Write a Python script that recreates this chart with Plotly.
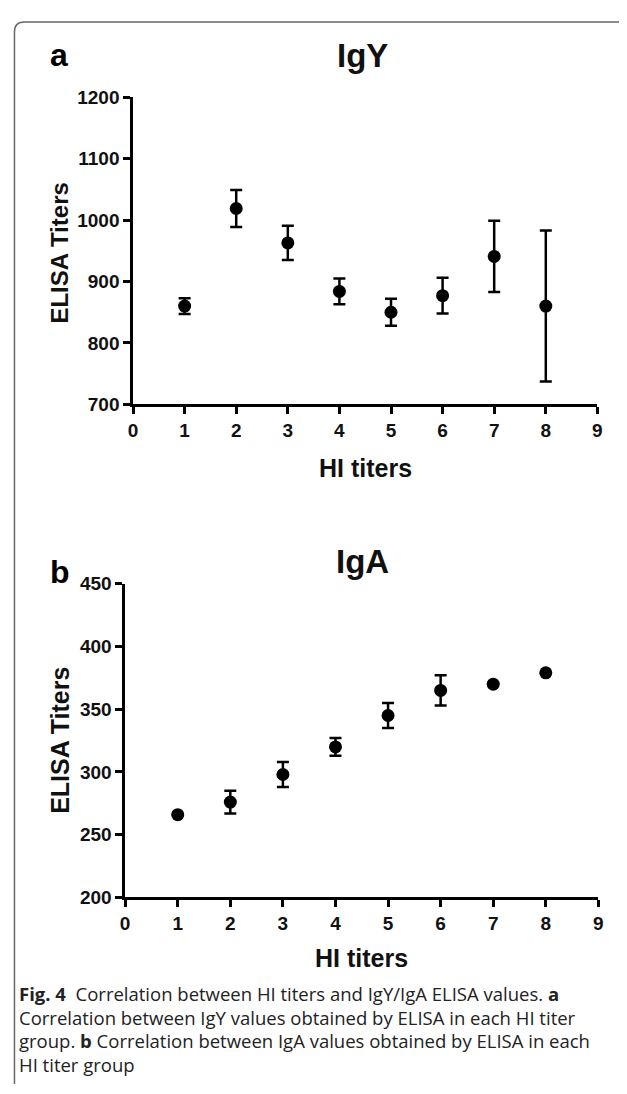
import plotly.graph_objects as go

# page offset of the plot div (default body margin) and figure size
OFF = 8
W, H = 618, 1076

hi_titers = [1, 2, 3, 4, 5, 6, 7, 8]
igy_mean = [860, 1019, 963, 884, 850, 877, 941, 860]
igy_err = [13, 30, 28, 21, 22, 29, 58, 123]
iga_mean = [266, 276, 298, 320, 345, 365, 370, 379]
iga_err = [0, 9, 10, 7, 10, 12, 0, 0]

x_ticks = [0, 1, 2, 3, 4, 5, 6, 7, 8, 9]
igy_ticks = [700, 800, 900, 1000, 1100, 1200]
iga_ticks = [200, 250, 300, 350, 400, 450]

caption_lines = [
    "<b>Fig. 4</b>  Correlation between HI titers and IgY/IgA ELISA values. <b>a</b>",
    "Correlation between IgY values obtained by ELISA in each HI titer",
    "group. <b>b</b> Correlation between IgA values obtained by ELISA in each",
    "HI titer group",
]


def px(x):
    return (x - OFF) / W


def py(y):
    return 1 - (y - OFF) / H


FONT = "Liberation Sans, Arial, sans-serif"

fig = go.Figure()

marker = dict(color="black", size=13, symbol="circle")
fig.add_trace(go.Scatter(
    x=hi_titers, y=igy_mean, mode="markers", marker=marker,
    error_y=dict(type="data", array=igy_err, visible=True, color="black",
                 thickness=2.5, width=6),
    xaxis="x", yaxis="y", showlegend=False))
fig.add_trace(go.Scatter(
    x=hi_titers, y=iga_mean, mode="markers", marker=marker,
    error_y=dict(type="data", array=iga_err, visible=True, color="black",
                 thickness=2.5, width=6),
    xaxis="x2", yaxis="y2", showlegend=False))

axis_common = dict(showline=True, linecolor="black", linewidth=2.5,
                   ticks="outside", ticklen=7, tickwidth=2.5, tickcolor="black",
                   showgrid=False, zeroline=False, mirror=False,
                   tickfont=dict(family=FONT, size=19, color="#111", weight="bold"),
                   fixedrange=True)

fig.update_layout(
    width=W, height=H,
    margin=dict(l=0, r=0, t=0, b=0),
    paper_bgcolor="white", plot_bgcolor="white",
    xaxis=dict(domain=[px(130), px(602)], range=[0, 9], tickvals=x_ticks,
               anchor="y", **axis_common),
    yaxis=dict(domain=[py(402), py(89)], range=[700, 1200], tickvals=igy_ticks,
               anchor="x", **axis_common),
    xaxis2=dict(domain=[px(122), px(603)], range=[0, 9], tickvals=x_ticks,
                anchor="y2", **axis_common),
    yaxis2=dict(domain=[py(905), py(585)], range=[200, 450], tickvals=iga_ticks,
                anchor="x2", **axis_common),
)


def label(text, x, y, size, angle=0, color="#111", family=FONT):
    return dict(text=text, x=px(x), y=py(y), xref="paper", yref="paper",
                xanchor="center", yanchor="middle", textangle=angle,
                showarrow=False, font=dict(family=family, size=size, color=color))


ann = [
    label("<b>a</b>", 55, 46, 32, color="black"),
    label("<b>b</b>", 56, 573, 32, color="black"),
    label("<b>IgY</b>", 363, 46, 33),
    label("<b>IgA</b>", 363, 562, 33),
    label("<b>HI titers</b>", 366, 467, 25),
    label("<b>HI titers</b>", 362, 967, 25),
    label("<b>ELISA Titers</b>", 55, 248, 24, angle=-90),
    label("<b>ELISA Titers</b>", 55, 745, 25, angle=-90),
]
for i, line in enumerate(caption_lines):
    ann.append(dict(text=line, x=px(12), y=py(1003 + 24 * i), xref="paper", yref="paper",
                    xanchor="left", yanchor="middle", showarrow=False,
                    font=dict(family="Open Sans, Noto Sans, sans-serif", size=18.5, color="#222")))
fig.update_layout(annotations=ann)

# rounded frame
path = (f"M {px(9.5)},{py(1100)} L {px(9.5)},{py(22)} "
        f"Q {px(9.5)},{py(12)} {px(19.5)},{py(12)} L {px(640)},{py(12)}")
fig.add_shape(type="path", path=path, xref="paper", yref="paper",
              line=dict(color="#666", width=1.5))

fig.write_html("out.html")
